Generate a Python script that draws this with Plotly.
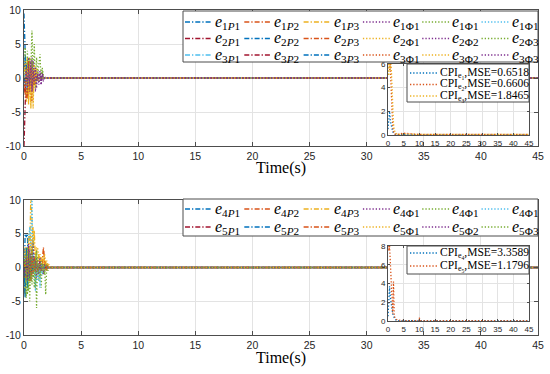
import plotly.graph_objects as go

W, H = 550, 374


def px(x):
    return x / W


def py(y):
    return 1 - y / H


# MATLAB default colour order
COLORS = ["#0072BD", "#D95319", "#EDB120", "#7E2F8E", "#77AC30", "#4DBEEE", "#A2142F"]

# ---------------- data ----------------
T_TOP = [0.0, 0.1, 0.2, 0.3, 0.4, 0.5, 0.6, 0.7, 0.8, 0.9, 1.0, 1.1, 1.2, 1.3, 1.4, 1.5, 1.6,
         1.7, 1.8, 1.9, 2.0, 45.0]

TOP_LABELS = [
    "<i>e</i><sub>1<i>P</i>1</sub>", "<i>e</i><sub>1<i>P</i>2</sub>", "<i>e</i><sub>1<i>P</i>3</sub>",
    "<i>e</i><sub>1Φ1</sub>", "<i>e</i><sub>1Φ1</sub>", "<i>e</i><sub>1Φ1</sub>",
    "<i>e</i><sub>2<i>P</i>1</sub>", "<i>e</i><sub>2<i>P</i>2</sub>", "<i>e</i><sub>2<i>P</i>3</sub>",
    "<i>e</i><sub>2Φ1</sub>", "<i>e</i><sub>2Φ2</sub>", "<i>e</i><sub>2Φ3</sub>",
    "<i>e</i><sub>3<i>P</i>1</sub>", "<i>e</i><sub>3<i>P</i>2</sub>", "<i>e</i><sub>3<i>P</i>3</sub>",
    "<i>e</i><sub>3Φ1</sub>", "<i>e</i><sub>3Φ2</sub>", "<i>e</i><sub>3Φ3</sub>",
]

E1P1 = [9.5, 2.0, -1.5, 1.0, -0.5, 0.3, -0.2, 0.1, 0, 0, 0, 0, 0, 0, 0, 0, 0, 0, 0, 0, 0, 0]
E1P2 = [0, -2.5, 2.0, -3.0, 1.5, -2.0, 1.0, -1.0, 0.5, -0.3, 0.2, 0, 0, 0, 0, 0, 0, 0, 0, 0, 0, 0]
E1P3 = [0, 1.5, -3.5, 2.5, -4.0, 3.0, -4.5, 2.0, -2.0, 1.0, -0.5, 0.3, 0, 0, 0, 0, 0, 0, 0, 0, 0, 0]
E1F1A = [0, 2.5, -1.5, 2.0, -2.0, 1.5, -1.0, 3.0, -1.5, 1.5, -2.0, 1.0, 0.5, -0.5, 1.0, -1.0, 0.5, -0.3, 0, 0, 0, 0]
E1F1B = [0, 4.5, -2.0, 3.0, 1.0, 2.5, 1.5, 7.0, -1.0, 5.0, -1.5, 3.0, 0.5, 2.0, 3.5, -0.5, 1.5, 0.3, 0, 0, 0, 0]
E1F1C = [0, 1.0, -1.0, 0.8, -0.5, 0.3, -0.2, 0, 0, 0, 0, 0, 0, 0, 0, 0, 0, 0, 0, 0, 0, 0]
E2P1 = [-10.0, -3.0, 1.5, -1.0, 0.5, -0.3, 0.2, 0, 0, 0, 0, 0, 0, 0, 0, 0, 0, 0, 0, 0, 0, 0]
E2P2 = [0, 3.0, -2.0, 1.5, -1.0, 0.5, -0.3, 0, 0, 0, 0, 0, 0, 0, 0, 0, 0, 0, 0, 0, 0, 0]
E2P3 = [0, -1.5, -3.0, 2.0, -2.5, 1.5, -1.5, 1.0, -1.0, 0.5, -0.3, 0, 0, 0, 0, 0, 0, 0, 0, 0, 0, 0]
E2F1 = [0, 2.0, -2.5, 3.0, -3.5, 2.0, -4.0, 2.5, -3.5, 1.0, -1.5, 0.5, -0.3, 0, 0, 0, 0, 0, 0, 0, 0, 0]
E2F2 = [0, -1.0, 2.0, -2.5, 3.0, -2.0, 1.5, -2.0, 2.5, -1.0, 0.5, -1.5, 1.0, -0.5, 0.5, -1.0, 0.8, -0.5, 0.2, 0, 0, 0]
E2F3 = [0, 1.5, -1.0, 4.0, -2.0, 3.0, -1.0, 2.5, 0.5, -1.0, 1.5, -0.5, 1.0, -0.5, 0.5, 0.5, 1.0, 0, 0, 0, 0, 0]
E3P1 = [0, 1.0, -1.5, 1.0, -0.5, 0.3, 0, 0, 0, 0, 0, 0, 0, 0, 0, 0, 0, 0, 0, 0, 0, 0]
E3P2 = [0, -2.0, 1.0, -0.5, 0.3, 0, 0, 0, 0, 0, 0, 0, 0, 0, 0, 0, 0, 0, 0, 0, 0, 0]
E3P3 = [0, -1.0, 2.0, -1.0, 0.5, 0, 0, 0, 0, 0, 0, 0, 0, 0, 0, 0, 0, 0, 0, 0, 0, 0]
E3F1 = [0, -2.0, 1.5, -3.0, 2.5, -2.0, 1.5, -3.5, 1.0, -1.0, 0.5, 0, 0, 0, 0, 0, 0, 0, 0, 0, 0, 0]
E3F2 = [0, 2.5, -1.0, 1.5, -3.0, 2.0, -2.5, 1.0, -4.5, 2.0, -1.0, 1.5, -0.5, 0, 0, 0, 0, 0, 0, 0, 0, 0]
E3F3 = [0, -0.5, 1.0, -1.5, 2.0, -1.0, 2.5, -2.0, 1.0, -0.5, 1.5, -1.0, 0.5, -1.0, 1.0, -0.5, 0.5, 0, 0, 0, 0, 0]

TOP_SERIES = [E1P1, E1P2, E1P3, E1F1A, E1F1B, E1F1C,
              E2P1, E2P2, E2P3, E2F1, E2F2, E2F3,
              E3P1, E3P2, E3P3, E3F1, E3F2, E3F3]

T_BOT = [0.0, 0.1, 0.2, 0.3, 0.4, 0.5, 0.6, 0.7, 0.8, 0.9, 1.0, 1.1, 1.2, 1.3, 1.4, 1.5, 1.6,
         1.7, 1.8, 1.9, 2.0, 2.1, 2.2, 2.3, 2.4, 2.5, 45.0]

BOT_LABELS = [
    "<i>e</i><sub>4<i>P</i>1</sub>", "<i>e</i><sub>4<i>P</i>2</sub>", "<i>e</i><sub>4<i>P</i>3</sub>",
    "<i>e</i><sub>4Φ1</sub>", "<i>e</i><sub>4Φ1</sub>", "<i>e</i><sub>4Φ1</sub>",
    "<i>e</i><sub>5<i>P</i>1</sub>", "<i>e</i><sub>5<i>P</i>2</sub>", "<i>e</i><sub>5<i>P</i>3</sub>",
    "<i>e</i><sub>5Φ1</sub>", "<i>e</i><sub>5Φ2</sub>", "<i>e</i><sub>5Φ3</sub>",
]

E4P1 = [-4.0, 5.0, 4.5, 5.0, -2.0, 3.0, -1.0, 2.5, -0.5, 1.5, 0, 0.5, 0, 0, 0, 0, 0, 0, 0, 0, 0, 0, 0, 0, 0, 0, 0]
E4P2 = [0, -2.0, 2.5, -1.5, 3.0, -2.0, 2.0, -1.0, 1.5, -0.5, 0.5, 0, 0, 0, 0, 0, 0, 0, 0, 0, 0, 0, 0, 0, 0, 0, 0]
E4P3 = [0, -4.0, 3.0, -1.0, 5.0, 2.0, 11.0, 6.0, 3.0, 5.5, 1.0, 3.0, -1.0, 2.0, 0.5, 1.5, -0.5, 2.5, 0.5, 1.0, -0.5, 0.5, 0, 0, 0, 0, 0]
E4F1A = [0, 2.0, -2.0, 3.0, -1.0, 2.5, -2.0, 4.0, -1.5, 2.0, -1.0, 1.5, -0.5, 1.0, -0.5, 0.5, -0.3, 0.5, -0.5, 0.3, 0, 0, 0, 0, 0, 0, 0]
E4F1B = [0, -3.0, 2.0, -4.0, 3.0, -5.0, 1.5, -2.5, 4.0, -3.0, 2.0, -6.0, 1.5, -2.0, 1.0, -3.0, 0.5, -1.0, 0.5, -4.0, 0.5, -0.5, 0, 0, 0, 0, 0]
E4F1C = [0, 1.5, -2.0, 3.0, 4.0, 6.0, 3.0, 10.5, -1.0, 2.0, -3.5, 1.0, -2.0, 0.5, -3.0, 0.5, -1.0, 0.3, 0, 0, 0, 0, 0, 0, 0, 0, 0]
E5P1 = [0, -1.5, 1.0, -2.0, 1.5, -1.0, 0.5, -0.5, 0.3, 0, 0, 0, 0, 0, 0, 0, 0, 0, 0, 0, 0, 0, 0, 0, 0, 0, 0]
E5P2 = [0, -4.5, 3.0, -3.0, 2.0, -1.5, 1.0, -0.5, 0, 0, 0, 0, 0, 0, 0, 0, 0, 0, 0, 0, 0, 0, 0, 0, 0, 0, 0]
E5P3 = [0, 1.0, -1.5, 2.0, -1.0, 1.5, -2.0, 3.0, -1.0, 1.5, -0.5, 1.0, -0.5, 0.5, 1.0, -0.5, 0.5, 3.0, 0.5, -0.5, 0.5, 0, 0, 0, 0, 0, 0]
E5F1 = [0, 3.0, -1.0, 2.0, 4.0, 1.0, 5.0, 2.0, 6.0, 3.0, 1.5, 2.5, 3.0, 1.0, 2.0, 0.5, 1.5, -0.5, 2.0, 0.5, 1.0, 0.3, 0.5, 0, 0, 0, 0]
E5F2 = [0, -1.0, 1.5, -2.0, 3.5, -1.5, 2.0, -1.0, 3.5, -0.5, 1.0, -1.5, 0.5, -1.0, 1.5, -0.5, 0.5, -1.0, 0.5, 0, 0, 0, 0, 0, 0, 0, 0]
E5F3 = [0, 2.0, -4.5, 3.0, -3.5, 2.0, -2.0, 3.0, -1.5, 1.0, -3.0, 2.5, -1.0, 0.5, -1.5, 1.0, -0.5, 0.5, -1.0, 0.5, 0, 0, 0, 0, 0, 0, 0]

BOT_SERIES = [E4P1, E4P2, E4P3, E4F1A, E4F1B, E4F1C,
              E5P1, E5P2, E5P3, E5F1, E5F2, E5F3]

T_CPI = [0.0, 0.25, 0.5, 0.75, 1.0, 1.25, 1.5, 1.75, 2.0, 2.5, 3.0, 5.0, 9.8, 10.0, 10.2, 45.0]
CPI_TOP_LABELS = ["CPI<sub>e<sub>1</sub></sub>,MSE=0.6518",
                  "CPI<sub>e<sub>2</sub></sub>,MSE=0.6606",
                  "CPI<sub>e<sub>3</sub></sub>,MSE=1.8465"]
CPI_E1 = [0.5, 1.5, 2.0, 1.2, 0.8, 0.5, 0.3, 0.15, 0.08, 0.03, 0.02, 0.02, 0.02, 0.02, 0.02, 0.02]
CPI_E2 = [6.0, 6.0, 5.5, 6.0, 4.0, 2.0, 0.8, 0.3, 0.1, 0.05, 0.05, 0.15, 0.05, 0.05, 0.05, 0.05]
CPI_E3 = [6.0, 5.0, 6.0, 5.5, 6.0, 4.0, 2.0, 1.0, 0.4, 0.15, 0.05, 0.08, 0.05, 0.05, 0.05, 0.05]
CPI_TOP = [CPI_E1, CPI_E2, CPI_E3]

CPI_BOT_LABELS = ["CPI<sub>e<sub>4</sub></sub>,MSE=3.3589",
                  "CPI<sub>e<sub>5</sub></sub>,MSE=1.1796"]
CPI_E4 = [0.5, 3.0, 3.7, 2.5, 1.8, 1.2, 0.8, 0.5, 0.3, 0.1, 0.05, 0.05, 0.05, 0.05, 0.05, 0.05]
CPI_E5 = [8.0, 7.5, 8.0, 6.0, 3.0, 1.5, 0.8, 4.2, 0.5, 0.2, 0.1, 0.05, 0.05, 0.35, 0.05, 0.05]
CPI_BOT = [CPI_E4, CPI_E5]

X_TICKS = [0, 5, 10, 15, 20, 25, 30, 35, 40, 45]
Y_TICKS_MAIN = [-10, -5, 0, 5, 10]
Y_TICKTEXT_MAIN = ["-10", "-5", "0", "5", "10"]
Y_TICKS_CPI_TOP = [0, 2, 4, 6]
Y_TICKS_CPI_BOT = [0, 2, 4, 6, 8]

for s in TOP_SERIES:
    assert len(s) == len(T_TOP)
for s in BOT_SERIES:
    assert len(s) == len(T_BOT)
for s in CPI_TOP + CPI_BOT:
    assert len(s) == len(T_CPI)

# ---------------- figure ----------------
fig = go.Figure()

LW = 1.3
DOT = "1.3px,1.9px"
DASHDOT = "5px,2px,1.3px,2px"


def dash_for(i):
    return DASHDOT if i % 6 < 3 else DOT


for i, (lab, ys) in enumerate(zip(TOP_LABELS, TOP_SERIES)):
    fig.add_trace(go.Scatter(x=T_TOP, y=ys, mode="lines", name=lab, showlegend=False,
                             line=dict(color=COLORS[i % 7], width=LW, dash=dash_for(i)),
                             xaxis="x", yaxis="y"))
for i, (lab, ys) in enumerate(zip(BOT_LABELS, BOT_SERIES)):
    fig.add_trace(go.Scatter(x=T_BOT, y=ys, mode="lines", name=lab, showlegend=False,
                             line=dict(color=COLORS[i % 7], width=LW, dash=dash_for(i)),
                             xaxis="x2", yaxis="y2"))
for i, (lab, ys) in enumerate(zip(CPI_TOP_LABELS, CPI_TOP)):
    fig.add_trace(go.Scatter(x=T_CPI, y=ys, mode="lines", name=lab, showlegend=False,
                             line=dict(color=COLORS[i % 7], width=LW, dash=DOT),
                             xaxis="x3", yaxis="y3"))
for i, (lab, ys) in enumerate(zip(CPI_BOT_LABELS, CPI_BOT)):
    fig.add_trace(go.Scatter(x=T_CPI, y=ys, mode="lines", name=lab, showlegend=False,
                             line=dict(color=COLORS[i % 7], width=LW, dash=DOT),
                             xaxis="x4", yaxis="y4"))

AX_COLOR = "#4d4d4d"
TICK_FONT = dict(family="Liberation Sans, Arial, sans-serif", size=10.5, color="#262626")
INSET_FONT = dict(family="Liberation Sans, Arial, sans-serif", size=8, color="#262626")


def axis(domain, rng, tickvals, ticktext=None, font=TICK_FONT, anchor=None, ticklen=4):
    d = dict(domain=domain, range=rng, tickvals=tickvals, showgrid=True, gridcolor="#e3e3e3",
             gridwidth=1, zeroline=False, showline=True, linecolor=AX_COLOR, linewidth=1,
             mirror="ticks", ticks="inside", ticklen=ticklen, tickcolor=AX_COLOR,
             tickfont=font, anchor=anchor, fixedrange=True, automargin=False)
    if ticktext is not None:
        d["ticktext"] = ticktext
    return d


MAIN_X = [px(24), px(538)]
INSET_X = [px(388), px(529)]

fig.update_layout(
    width=W, height=H, autosize=False,
    margin=dict(l=0, r=0, t=0, b=0, pad=0),
    paper_bgcolor="white", plot_bgcolor="white",
    xaxis=axis(MAIN_X, [0, 45], X_TICKS, anchor="y"),
    yaxis=axis([py(146), py(10)], [-10, 10], Y_TICKS_MAIN, Y_TICKTEXT_MAIN, anchor="x"),
    xaxis2=axis(MAIN_X, [0, 45], X_TICKS, anchor="y2"),
    yaxis2=axis([py(335), py(200)], [-10, 10], Y_TICKS_MAIN, Y_TICKTEXT_MAIN, anchor="x2"),
    xaxis3=axis(INSET_X, [0, 45], X_TICKS, font=INSET_FONT, anchor="y3", ticklen=2),
    yaxis3=axis([py(135), py(64)], [0, 6], Y_TICKS_CPI_TOP, font=INSET_FONT, anchor="x3", ticklen=2),
    xaxis4=axis(INSET_X, [0, 45], X_TICKS, font=INSET_FONT, anchor="y4", ticklen=2),
    yaxis4=axis([py(321), py(246)], [0, 8], Y_TICKS_CPI_BOT, font=INSET_FONT, anchor="x4", ticklen=2),
)

SERIF = "Liberation Serif, Times New Roman, serif"

# x-axis titles
for ytitle in (168, 358):
    fig.add_annotation(text="Time(s)", x=px(281), y=py(ytitle), xref="paper", yref="paper",
                       showarrow=False, xanchor="center", yanchor="middle",
                       font=dict(family=SERIF, size=16, color="#000000"))


def add_legend(labels, colors, dashes, box, ncols, row_ys, col_x0, col_step, sample_len,
               font_size):
    x0, y0, x1, y1 = box
    fig.add_shape(type="rect", xref="paper", yref="paper", x0=px(x0), x1=px(x1),
                  y0=py(y1), y1=py(y0), fillcolor="white",
                  line=dict(color=AX_COLOR, width=1), layer="above")
    for k, lab in enumerate(labels):
        r, c = divmod(k, ncols)
        yy = row_ys[r]
        xs = col_x0 + c * col_step
        fig.add_shape(type="line", xref="paper", yref="paper", x0=px(xs), x1=px(xs + sample_len),
                      y0=py(yy), y1=py(yy), line=dict(color=colors[k], width=LW, dash=dashes[k]),
                      layer="above")
        fig.add_annotation(text=lab, x=px(xs + sample_len + 1), y=py(yy), xref="paper",
                           yref="paper", showarrow=False, xanchor="left", yanchor="middle",
                           font=dict(family=SERIF, size=font_size, color="#000000"))


add_legend(TOP_LABELS, [COLORS[i % 7] for i in range(18)], [dash_for(i) for i in range(18)],
           (183, 11, 538, 62), 6, [22, 38.5, 55], 185, 59.3, 27, 16)
add_legend(BOT_LABELS, [COLORS[i % 7] for i in range(12)], [dash_for(i) for i in range(12)],
           (183, 199, 538, 236), 6, [209, 227], 185, 59.3, 27, 16)
add_legend(CPI_TOP_LABELS, COLORS[:3], [DOT] * 3, (407, 64, 529, 102), 1, [73, 84.5, 96],
           410, 0, 27, 11.5)
add_legend(CPI_BOT_LABELS, COLORS[:2], [DOT] * 2, (407, 246, 529, 274), 1, [253, 266],
           410, 0, 27, 11.5)

fig.write_html("out.html", config={"displayModeBar": False},
               post_script="document.body.style.margin='0';")
